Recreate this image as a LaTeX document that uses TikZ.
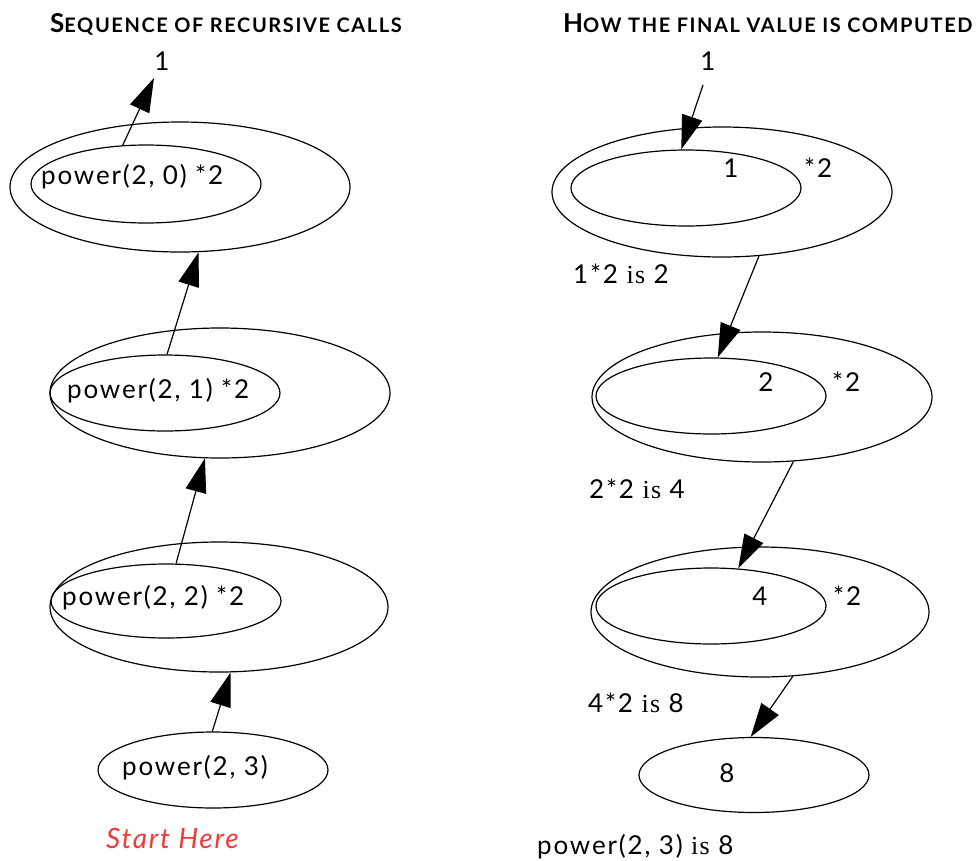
\documentclass[tikz,border=0pt]{standalone}
\usepackage{fontspec}
\setmainfont{Lato}[LetterSpace=7]
\newfontfamily\titlefont{Lato}[LetterSpace=8]
\newfontfamily\isfont{Liberation Serif}[LetterSpace=5]
\newfontfamily\handfont{Lato}[UprightFont=* Italic, LetterSpace=6]
\usetikzlibrary{arrows.meta,shapes.geometric}

\definecolor{startred}{RGB}{238,58,58}

% small caps made from two sizes of bold capitals
\newcommand{\headcaps}[2]{{\titlefont\bfseries\fontsize{26}{30}\selectfont #1\fontsize{20}{24}\selectfont #2}}
\newcommand{\is}{{\isfont is}}

\tikzset{
  oval/.style={draw, ellipse, line width=1.2pt, inner sep=0pt},
  outer/.style={oval, minimum width=340pt, minimum height=130pt},
  inner/.style={oval, minimum width=230pt, minimum height=76pt},
  txt/.style={inner sep=0pt, font=\fontsize{26}{30}\selectfont},
  arr/.style={line width=1.2pt, -{Triangle[length=34pt,width=21pt]}},
}

\begin{document}
\begin{tikzpicture}[x=1pt, y=-1pt]
\useasboundingbox (0,0) rectangle (980,860);

% ---------- left column: the calls ----------
\node[txt, anchor=base west] (titleL) at (50,32)
  {\headcaps{S}{EQUENCE OF RECURSIVE CALLS}};
\node[txt, anchor=base] (oneL) at (162,70) {1};

\node[outer] (OA) at (180,187) {};
\node[inner, minimum height=78pt] (IA) at (146,184) {};
\node[txt, anchor=base west] (tA) at (41,184) {power(2, 0) *2};

\node[outer] (OB) at (220,393) {};
\node[inner] (IB) at (165,393) {};
\node[txt, anchor=base west] (tB) at (67,398) {power(2, 1) *2};

\node[outer, minimum width=338pt] (OC) at (219,607) {};
\node[inner, minimum height=74pt] (IC) at (166,601) {};
\node[txt, anchor=base west] (tC) at (62,605) {power(2, 2) *2};

\node[inner] (D) at (213,770) {};
\node[txt, anchor=base west] (tD) at (122,775) {power(2, 3)};

\node[inner sep=0pt, anchor=base west, text=startred,
      font=\handfont\fontsize{28}{32}\selectfont] (start) at (106,848) {Start Here};

\draw[arr] (IA.121) -- ([shift={(-8,8)}]oneL.base);
\draw[arr] (IB.87) -- (OA.286);
\draw[arr] (IC.75) -- (OB.257);
\draw[arr] (D.91) -- (OC.280);

% ---------- right column: the returned values ----------
\node[txt, anchor=base west] (titleR) at (563,32)
  {\headcaps{H}{OW THE FINAL VALUE IS COMPUTED}};
\node[txt, anchor=base] (oneR) at (708,70) {1};

\node[outer] (OE) at (722,192) {};
\node[inner] (IE) at (686,188) {};
\node[txt, anchor=base] (vE) at (731,177) {1};
\node[txt, anchor=base west] (mE) at (804,177) {*2};
\node[txt, anchor=base west] (rE) at (573,283) {1*2 \is\ 2};

\node[outer] (OF) at (762,397) {};
\node[inner] (IF) at (711,396) {};
\node[txt, anchor=base] (vF) at (766,391) {2};
\node[txt, anchor=base west] (mF) at (832,391) {*2};
\node[txt, anchor=base west] (rF) at (589,498) {2*2 \is\ 4};

\node[outer, minimum width=338pt] (OG) at (760,612) {};
\node[inner] (IG) at (711,606) {};
\node[txt, anchor=base] (vG) at (760,605) {4};
\node[txt, anchor=base west] (mG) at (833,605) {*2};
\node[txt, anchor=base west] (rG) at (588,712) {4*2 \is\ 8};

\node[inner, minimum height=75pt] (H) at (754,775) {};
\node[txt, anchor=base] (vH) at (727,782) {8};
\node[txt, anchor=base west] (rH) at (537,854) {power(2, 3) \is\ 8};

\draw[arr] ([shift={(-5,15)}]oneR.base) -- (IE.97);
\draw[arr] (OE.300) -- (IF.80);
\draw[arr] (OF.296) -- (IG.54);
\draw[arr] (OG.297) -- (H.95);
\end{tikzpicture}
\end{document}
